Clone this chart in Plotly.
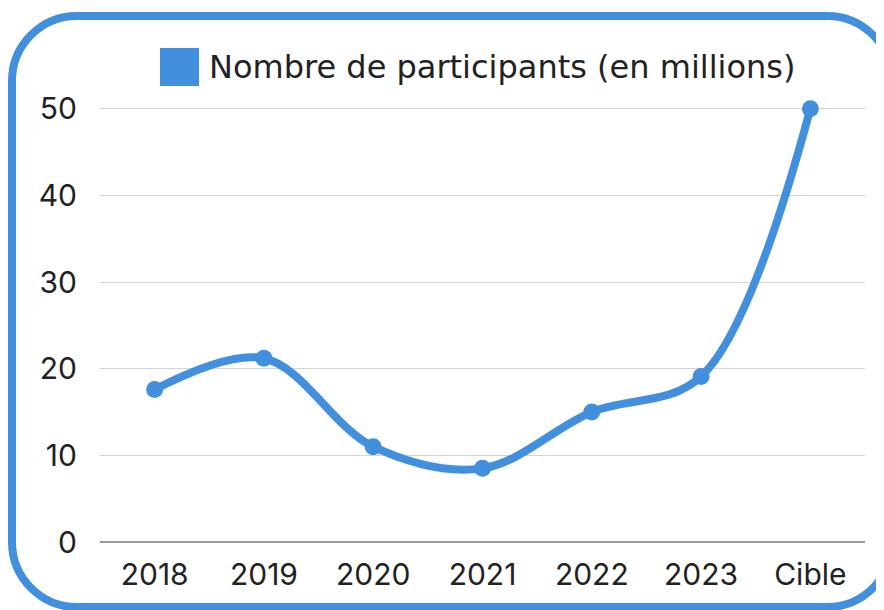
import plotly.graph_objects as go

# data
categories = ["2018", "2019", "2020", "2021", "2022", "2023", "Cible"]
participants = [17.6, 21.2, 11.0, 8.5, 15.0, 19.1, 50.0]
y_ticks = [0, 10, 20, 30, 40, 50]
legend_label = "Nombre de participants (en millions)"

BLUE = "#428FDE"
FONT = "Inter, 'Open Sans', sans-serif"
W, H = 884, 610
OFF = 8  # page body margin: the figure is drawn 8px in from the window corner

# plot area in window pixels
PL, PR, PT, PB = 100, 865, 90, 542
ML, MR = PL - OFF, W - (PR - OFF)
MT, MB = PT - OFF, H - (PB - OFF)


def px_x(px):
    return (px - PL) / (PR - PL)


def px_y(py):
    return (PB - py) / (PB - PT)


def rounded_rect(x0, y0, x1, y1, r):
    k = 0.5523 * r
    pts = [
        f"M {px_x(x0 + r)},{px_y(y0)}",
        f"L {px_x(x1 - r)},{px_y(y0)}",
        f"C {px_x(x1 - r + k)},{px_y(y0)} {px_x(x1)},{px_y(y0 + r - k)} {px_x(x1)},{px_y(y0 + r)}",
        f"L {px_x(x1)},{px_y(y1 - r)}",
        f"C {px_x(x1)},{px_y(y1 - r + k)} {px_x(x1 - r + k)},{px_y(y1)} {px_x(x1 - r)},{px_y(y1)}",
        f"L {px_x(x0 + r)},{px_y(y1)}",
        f"C {px_x(x0 + r - k)},{px_y(y1)} {px_x(x0)},{px_y(y1 - r + k)} {px_x(x0)},{px_y(y1 - r)}",
        f"L {px_x(x0)},{px_y(y0 + r)}",
        f"C {px_x(x0)},{px_y(y0 + r - k)} {px_x(x0 + r - k)},{px_y(y0)} {px_x(x0 + r)},{px_y(y0)}",
        "Z",
    ]
    return " ".join(pts)


fig = go.Figure()
fig.add_trace(go.Scatter(
    x=categories,
    y=participants,
    mode="lines+markers",
    line=dict(color=BLUE, width=8, shape="spline", smoothing=1),
    marker=dict(color=BLUE, size=17),
    cliponaxis=False,
    showlegend=False,
))

# rounded frame
fig.add_shape(type="path", xref="paper", yref="paper",
              path=rounded_rect(12, 16, 892, 607, 65),
              line=dict(color=BLUE, width=8))
# legend swatch + label
fig.add_shape(type="rect", xref="paper", yref="paper",
              x0=px_x(160), x1=px_x(199), y0=px_y(86), y1=px_y(48),
              fillcolor=BLUE, line_width=0)
fig.add_annotation(xref="paper", yref="paper", x=px_x(207), y=px_y(67),
                   xanchor="left", yanchor="middle", showarrow=False,
                   text=legend_label,
                   font=dict(size=32, color="#222222", family="'DejaVu Sans', sans-serif"))

fig.update_layout(
    width=W, height=H,
    margin=dict(l=ML, r=MR, t=MT, b=MB),
    paper_bgcolor="white", plot_bgcolor="white",
    font=dict(family=FONT, size=30, color="#222222"),
    showlegend=False,
)
fig.update_xaxes(type="category", range=[-0.5, 6.5], showgrid=False,
                 showline=False, ticks="", ticklabelstandoff=12)
fig.update_yaxes(range=[0, (PB - PT) / ((PB - 108.7) / 50)], tickvals=y_ticks,
                 showgrid=True, gridcolor="#d4d4d4", gridwidth=1, zeroline=True,
                 zerolinecolor="#999999", zerolinewidth=1.5,
                 ticks="", ticklabelstandoff=22, showline=False)

fig.write_html("out.html")
